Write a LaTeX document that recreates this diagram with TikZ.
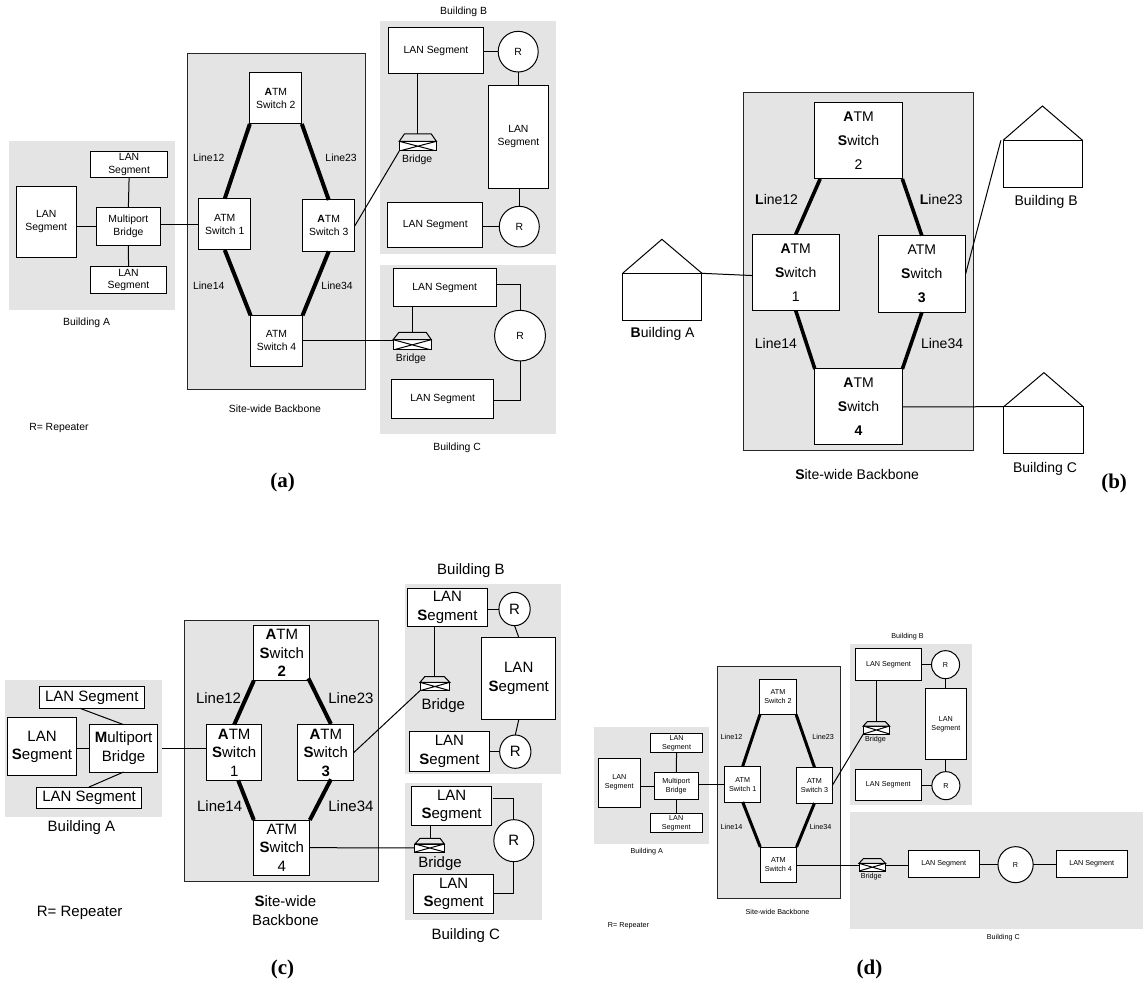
\documentclass[tikz,border=0pt]{standalone}
\usepackage{fontspec}
\setmainfont{Liberation Sans}
\newfontfamily\capfont{Liberation Serif}
\usetikzlibrary{shapes.geometric,calc}
\definecolor{areagray}{HTML}{E4E4E4}
\definecolor{roofgray}{HTML}{E4E4E4}
\tikzset{
  txt/.style={font=\fontsize{10.4}{12.8}\selectfont},
  lbl/.style={txt,inner sep=0pt,align=center},
  gbox/.style={fill=areagray,inner sep=0pt,outer sep=0pt},
  bbox/.style={gbox,draw=black!85,line width=1pt},
  wbox/.style={txt,fill=white,draw=black,line width=1pt,inner sep=0pt,outer sep=0pt,align=center},
  rep/.style={txt,ellipse,fill=white,draw=black,line width=1pt,inner sep=0pt,outer sep=0pt},
  conn/.style={draw=black,line width=1pt},
  trunk/.style={draw=black,line width=4pt},
  roof/.style={draw=black,line width=1pt,fill=roofgray,line join=miter},
  capt/.style={font=\capfont\bfseries\fontsize{21}{23}\selectfont,inner sep=0pt},
}
% rectangle node from corners
\newcommand\rbox[7][wbox]{% style name x1 y1 x2 y2 text
  \pgfmathsetmacro\bw{abs(#5-#3)*\sx}\pgfmathsetmacro\bh{abs(#6-#4)*\sy}%
  \node[#1,minimum width=\bw pt,minimum height=\bh pt] (#2) at ({(#3+#5)/2},{(#4+#6)/2}) {#7};%
}
\newcommand\rp[5]{% name cx cy rx ry
  \pgfmathsetmacro\bw{2*#4*\sx}\pgfmathsetmacro\bh{2*#5*\sy}%
  \node[rep,minimum width=\bw pt,minimum height=\bh pt] (#1) at (#2,#3) {R};%
}
\newcommand\lb[4]{\node[lbl] (#1) at (#2,#3) {#4};}
% name basex1 basey1 basex2 basey2 topx1 topx2 topy
\newcommand\bridge[8]{%
  \pgfmathsetmacro\bw{abs(#4-#2)*\sx}\pgfmathsetmacro\bh{abs(#5-#3)*\sy}%
  \node[fill=white,draw=black,line width=1pt,inner sep=0pt,outer sep=0pt,minimum width=\bw pt,minimum height=\bh pt,
    path picture={\draw[line width=1pt] (path picture bounding box.north west)--(path picture bounding box.south east)
      (path picture bounding box.north east)--(path picture bounding box.south west);}]
    (#1) at ({(#2+#4)/2},{(#3+#5)/2}) {};%
  \coordinate (#1-tl) at (#6,#8);\coordinate (#1-tr) at (#7,#8);%
  \coordinate (#1-top) at ($(#1-tl)!.5!(#1-tr)$);%
  \draw[roof] (#1.north west)--(#1-tl)--(#1-tr)--(#1.north east)--cycle;%
}
% name x1 y1 x2 y2 apexx apexy
\newcommand\house[7]{%
  \pgfmathsetmacro\bw{abs(#4-#2)*\sx}\pgfmathsetmacro\bh{abs(#5-#3)*\sy}%
  \node[fill=white,draw=black,line width=1pt,inner sep=0pt,outer sep=0pt,minimum width=\bw pt,minimum height=\bh pt] (#1) at ({(#2+#4)/2},{(#3+#5)/2}) {};%
  \coordinate (#1-apex) at (#6,#7);%
  \draw[conn] (#1.north west)--(#1-apex)--(#1.north east);%
}
\begin{document}
\begin{tikzpicture}[x=1pt,y=-1pt]
\useasboundingbox (0,0) rectangle (1143,984);
\fill[white] (0,0) rectangle (1143,984);

%%%%%%%%%%%%%%%% panel (a)
\def\sx{0.36364}\def\sy{0.33333}
\begin{scope}[xscale=\sx,yscale=\sy]
\rbox[gbox]{aA}{25}{423}{480}{930}{}
\rbox[gbox]{aB}{1045}{63}{1528}{761}{}
\rbox[gbox]{aC}{1045}{795}{1528}{1302}{}
\rbox[bbox]{aBack}{515}{160}{1006}{1170}{}
\rbox{as1}{547}{596}{689}{750}{ATM\\Switch 1}
\rbox{as2}{687}{218}{830}{372}{\textbf{A}TM\\Switch 2}
\rbox{as3}{832}{600}{976}{754}{\textbf{A}TM\\Switch 3}
\rbox{as4}{689}{946}{832}{1099}{ATM\\Switch 4}
\rbox{aL}{44}{559}{210}{772}{LAN\\Segment}
\rbox{aT}{250}{454}{460}{533}{LAN\\Segment}
\rbox{aD}{249}{800}{458}{880}{LAN\\Segment}
\rbox{aM}{266}{623}{440}{737}{Multiport\\Bridge}
\draw[trunk] (as2.south west)--(as1.north);
\draw[trunk] (as2.south east)--(as3.north);
\draw[trunk] (as1.south)--(as4.north west);
\draw[trunk] (as3.south)--(as4.north east);
\draw[conn] (aM.west)--(aM.west -| aL.east);
\draw[conn] (aM.north)--(aT.south);
\draw[conn] (aM.south)--(aD.north);
\draw[conn] (as1.west)--(as1.west -| aM.east);
\rbox{aB1}{1068}{84}{1330}{220}{LAN Segment}
\rbox{aB2}{1343}{256}{1508}{565}{LAN\\Segment}
\rbox{aB3}{1066}{608}{1328}{743}{LAN Segment}
\rp{aR1}{1425}{155}{55}{61}
\rp{aR2}{1428}{680}{55}{61}
\draw[conn] (aR1.west)--(aR1.west -| aB1.east);
\draw[conn] (aR1.south)--(aR1.south |- aB2.north);
\draw[conn] (aR2.north)--(aR2.north |- aB2.south);
\draw[conn] (aR2.west)--(aR2.west -| aB3.east);
\bridge{aBrB}{1098}{424}{1200}{453}{1112}{1186}{402}
\draw[conn] (aBrB-top)--(aBrB-top |- aB1.south);
\draw[conn] (as3.east)--(aBrB.south west);
\rbox{aC1}{1082}{805}{1364}{920}{LAN Segment}
\rbox{aC2}{1077}{1138}{1358}{1255}{LAN Segment}
\rp{aR3}{1430}{1007}{70}{76}
\draw[conn] ($(aC1.north east)!.41!(aC1.south east)$) -| (aR3.north);
\draw[conn] (aR3.south) |- ($(aC2.north east)!.54!(aC2.south east)$);
\bridge{aBrC}{1081}{1019}{1186}{1050}{1097}{1172}{997}
\draw[conn] (aBrC-top)--(aBrC-top |- aC1.south);
\coordinate (aBrCin) at ($(aBrC.north west)!.13!(aBrC.south west)$);
\draw[conn] (aBrCin)--(aBrCin -| as4.east);
\lb{al12}{574}{472}{Line12}
\lb{al23}{938}{472}{Line23}
\lb{al14}{574}{856}{Line14}
\lb{al34}{927}{856}{Line34}
\lb{abrb}{1147}{480}{Bridge}
\lb{abrc}{1130}{1075}{Bridge}
\lb{abA}{238}{967}{Building A}
\lb{abB}{1275}{35}{Building B}
\lb{abC}{1257}{1342}{Building C}
\lb{aback}{756}{1225}{Site-wide Backbone}
\lb{arep}{162}{1285}{R= Repeater}
\node[capt] (acap) at (777,1447) {(a)};
\end{scope}

%%%%%%%%%%%%%%%% panel (b)
\def\sx{0.36765}\def\sy{0.33333}
\begin{scope}[shift={(570,60)},xscale=\sx,yscale=\sy,txt/.style={font=\fontsize{14}{24}\selectfont},trunk/.style={draw=black,line width=3.6pt}]
\rbox[bbox]{bBack}{472}{98}{1097}{1172}{}
\rbox{bs2}{666}{127}{904}{357}{\textbf{A}TM\\\textbf{S}witch\\2}
\rbox{bs1}{496}{523}{732}{752}{\textbf{A}TM\\\textbf{S}witch\\1}
\rbox{bs3}{838}{527}{1076}{757}{ATM\\\textbf{S}witch\\\textbf{3}}
\rbox{bs4}{666}{927}{904}{1155}{\textbf{A}TM\\\textbf{S}witch\\\textbf{4}}
\draw[trunk] ($(bs2.south west)!.06!(bs2.south east)$)--(bs1.north);
\draw[trunk] (bs2.south east)--(bs3.north);
\draw[trunk] (bs1.south)--(bs4.north west);
\draw[trunk] (bs3.south)--(bs4.north east);
\house{bhA}{143}{640}{359}{783}{250}{538}
\house{bhB}{1178}{241}{1394}{383}{1285}{138}
\house{bhC}{1180}{1040}{1396}{1182}{1289}{938}
\coordinate (bEndB) at (1172,241);
\draw[conn] (bhA.north east)--($(bs1.north west)!.54!(bs1.south west)$);
\draw[conn] (bs3.east)--(bEndB);
\draw[conn] (bs4.east)--(bhC.north west);
\lb{bl12}{562}{417}{\textbf{L}ine12}
\lb{bl23}{1010}{417}{\textbf{L}ine23}
\lb{bl14}{560}{850}{Line14}
\lb{bl34}{1012}{850}{Line34}
\lb{bbA}{252}{823}{\textbf{B}uilding A}
\lb{bbB}{1295}{427}{Building B}
\lb{bbC}{1292}{1228}{Building C}
\lb{bback}{781}{1243}{\textbf{S}ite-wide Backbone}
\node[capt] (bcap) at (1480,1270) {(b)};
\end{scope}

%%%%%%%%%%%%%%%% panel (c)
\def\sx{0.36364}\def\sy{0.33333}
\begin{scope}[shift={(0,550)},xscale=\sx,yscale=\sy,txt/.style={font=\fontsize{15}{18.5}\selectfont}]
\rbox[gbox]{cA}{14}{390}{446}{800}{}
\rbox[gbox]{cB}{1115}{102}{1543}{671}{}
\rbox[gbox]{cC}{1115}{699}{1490}{1109}{}
\rbox[bbox]{cBack}{507}{210}{1040}{993}{}
\rbox{cs2}{698}{226}{852}{392}{\textbf{A}TM\\\textbf{S}witch\\\textbf{2}}
\rbox{cs1}{568}{524}{720}{691}{\textbf{A}TM\\\textbf{S}witch\\1}
\rbox{cs3}{819}{524}{973}{691}{\textbf{A}TM\\\textbf{S}witch\\\textbf{3}}
\rbox{cs4}{698}{810}{852}{976}{ATM\\\textbf{S}witch\\4}
\coordinate (cS3b) at (910,688);
\coordinate (cS1b) at (655,691);
\coordinate (cS2br) at (848,385);
\coordinate (cS3t) at (910,522);
\draw[trunk] (cs2.south west)--(cs1.north);
\draw[trunk] (cS2br)--(cS3t);
\draw[trunk] (cS1b)--(cs4.north west);
\draw[trunk] (cS3b)--(cs4.north east);
\rbox{cT}{108}{410}{397}{475}{LAN Segment}
\rbox{cL}{21}{503}{210}{677}{LAN\\\textbf{S}egment}
\rbox{cM}{246}{524}{434}{666}{\textbf{M}ultiport\\Bridge}
\rbox{cD}{100}{711}{390}{776}{LAN Segment}
\coordinate (cTa) at (220,475);
\coordinate (cGap) at (446,595);
\draw[conn] (cTa)--(cM.north);
\draw[conn] (cM.west)--(cM.west -| cL.east);
\draw[conn] (cM.south)--(cD.north);
\draw[conn] (cGap)--(cGap -| cs1.west);
\rbox{cB1}{1121}{114}{1340}{230}{LAN\\\textbf{S}egment}
\rbox{cB2}{1325}{262}{1528}{509}{LAN\\\textbf{S}egment}
\rbox{cB3}{1126}{545}{1346}{663}{LAN\\\textbf{S}egment}
\rp{cR1}{1415}{177}{43}{50}
\rp{cR2}{1417}{605}{43}{50}
\draw[conn] (cR1.west)--(cR1.west -| cB1.east);
\draw[conn] (cR1.south)--(cB2.north);
\draw[conn] (cB2.south)--(cR2.north);
\draw[conn] (cR2.west)--(cR2.west -| cB3.east);
\bridge{cBrB}{1155}{397}{1237}{422}{1168}{1222}{380}
\draw[conn] (cBrB-top)--(cBrB-top |- cB1.south);
\draw[conn] (cs3.east)--(cBrB.south west);
\rbox{cC1}{1132}{709}{1352}{826}{LAN\\\textbf{S}egment}
\rbox{cC2}{1137}{974}{1358}{1090}{LAN\\\textbf{S}egment}
\rp{cR3}{1413}{872}{55}{63}
\coordinate (cC1a) at (1357,747);
\draw[conn] (cC1a) -| (cR3.north);
\draw[conn] (cR3.south) |- ($(cC2.north east)!.48!(cC2.south east)$);
\bridge{cBrC}{1141}{882}{1222}{906}{1155}{1210}{865}
\draw[conn] (cBrC-top)--(cBrC-top |- cC1.south);
\draw[conn] (cs4.east)--(cBrC.west);
\lb{cl12}{601}{443}{Line12}
\lb{cl23}{965}{443}{Line23}
\lb{cl14}{604}{767}{Line14}
\lb{cl34}{965}{767}{Line34}
\lb{cbrb}{1219}{467}{Bridge}
\lb{cbrc}{1210}{941}{Bridge}
\lb{cbA}{224}{833}{Building A}
\lb{cbB}{1295}{62}{Building B}
\lb{cbC}{1281}{1157}{Building C}
\lb{cback}{785}{1082}{\textbf{S}ite-wide\\Backbone}
\lb{crep}{219}{1088}{R= Repeater}
\node[capt] (ccap) at (777,1258) {(c)};
\end{scope}

%%%%%%%%%%%%%%%% panel (d)
\def\sx{0.35907}\def\sy{0.33333}
\begin{scope}[shift={(580,630)},xscale=\sx,yscale=\sy,txt/.style={font=\fontsize{7.2}{9}\selectfont},trunk/.style={draw=black,line width=3pt}]
\rbox[gbox]{dA}{39}{291}{359}{641}{}
\rbox[gbox]{dB}{752}{42}{1092}{524}{}
\rbox[gbox]{dC}{752}{546}{1568}{896}{}
\rbox[bbox]{dBack}{382}{108}{725}{806}{}
\rbox{ds2}{501}{148}{602}{254}{ATM\\Switch 2}
\rbox{ds1}{403}{409}{503}{516}{ATM\\Switch 1}
\rbox{ds3}{603}{412}{703}{519}{ATM\\Switch 3}
\rbox{ds4}{502}{651}{603}{758}{ATM\\Switch 4}
\draw[trunk] (ds2.south west)--(ds1.north);
\draw[trunk] (ds2.south east)--(ds3.north);
\draw[trunk] (ds1.south)--(ds4.north west);
\draw[trunk] (ds3.south)--(ds4.north east);
\rbox{dT}{196}{310}{342}{367}{LAN\\Segment}
\rbox{dL}{51}{384}{168}{531}{LAN\\Segment}
\rbox{dM}{207}{428}{329}{508}{Multiport\\Bridge}
\rbox{dD}{195}{551}{341}{607}{LAN\\Segment}
\draw[conn] (dM.west)--(dM.west -| dL.east);
\draw[conn] (dM.north)--(dT.south);
\draw[conn] (dM.south)--(dD.north);
\draw[conn] (ds1.west)--(ds1.west -| dM.east);
\rbox{dB1}{767}{56}{951}{150}{LAN Segment}
\rbox{dB2}{961}{175}{1077}{388}{LAN\\Segment}
\rbox{dB3}{767}{418}{950}{511}{LAN Segment}
\rp{dR1}{1018}{104}{39}{42}
\rp{dR2}{1019}{467}{39}{42}
\draw[conn] (dR1.west)--(dR1.west -| dB1.east);
\draw[conn] (dR1.south)--(dR1.south |- dB2.north);
\draw[conn] (dR2.north)--(dR2.north |- dB2.south);
\draw[conn] (dR2.west)--(dR2.west -| dB3.east);
\bridge{dBrB}{789}{288}{862}{312}{800}{850}{275}
\draw[conn] (dBrB-top)--(dBrB-top |- dB1.south);
\draw[conn] (ds3.east)--(dBrB.south west);
\bridge{dBrC}{777}{700}{851}{723}{789}{838}{686}
\rbox{dC1}{914}{661}{1112}{742}{LAN Segment}
\rbox{dC2}{1326}{662}{1524}{743}{LAN Segment}
\rp{dR3}{1213}{704}{49}{54}
\coordinate (dBrCw) at ($(dBrC.north west)!.22!(dBrC.south west)$);
\coordinate (dBrCe) at ($(dBrC.north east)!.22!(dBrC.south east)$);
\draw[conn] (dBrCw)--(dBrCw -| ds4.east);
\draw[conn] (dBrCe)--(dBrCe -| dC1.west);
\draw[conn] (dR3.west)--(dR3.west -| dC1.east);
\draw[conn] (dR3.east)--(dR3.east -| dC2.west);
\lb{dl12}{422}{322}{Line12}
\lb{dl23}{677}{322}{Line23}
\lb{dl14}{422}{590}{Line14}
\lb{dl34}{670}{590}{Line34}
\lb{dbrb}{823}{329}{Bridge}
\lb{dbrc}{811}{739}{Bridge}
\lb{dbA}{186}{665}{Building A}
\lb{dbB}{912}{20}{Building B}
\lb{dbC}{1179}{922}{Building C}
\lb{dback}{550}{845}{Site-wide Backbone}
\lb{drep}{135}{886}{R= Repeater}
\node[capt] (dcap) at (806,1017) {(d)};
\end{scope}
\end{tikzpicture}
\end{document}
